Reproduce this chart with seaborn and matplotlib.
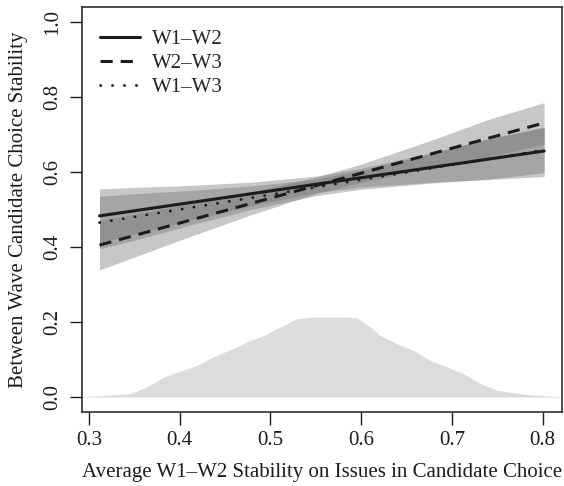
import numpy as np
import pandas as pd
import matplotlib
matplotlib.use("Agg")
import matplotlib.pyplot as plt
from matplotlib.lines import Line2D
import seaborn as sns

# ---- data ----
series = ["W1\u2013W2", "W2\u2013W3", "W1\u2013W3"]
line_x = [0.3116, 0.8016]
w1w2_y = [0.483, 0.656]
w2w3_y = [0.405, 0.731]
w1w3_y = [0.465, 0.659]

band_x = [0.3116, 0.35, 0.40, 0.48, 0.55, 0.60, 0.68, 0.74, 0.8016]
w2w3_lo = [0.339, 0.373, 0.418, 0.487, 0.542, 0.573, 0.613, 0.640, 0.674]
w2w3_hi = [0.471, 0.488, 0.510, 0.547, 0.586, 0.621, 0.687, 0.740, 0.785]
w1w2_lo = [0.411, 0.435, 0.465, 0.511, 0.545, 0.560, 0.573, 0.580, 0.588]
w1w2_hi = [0.555, 0.559, 0.563, 0.573, 0.589, 0.610, 0.653, 0.688, 0.718]
w1w3_lo = [0.395, 0.418, 0.451, 0.501, 0.537, 0.554, 0.571, 0.581, 0.598]
w1w3_hi = [0.535, 0.542, 0.549, 0.563, 0.581, 0.604, 0.651, 0.689, 0.720]

dens_x = [0.2906, 0.3457, 0.364, 0.3824, 0.4008, 0.419, 0.437, 0.4558, 0.4742,
          0.4925, 0.5109, 0.5293, 0.5476, 0.566, 0.5843, 0.5954, 0.61, 0.621,
          0.6394, 0.6577, 0.676, 0.6945, 0.7128, 0.731, 0.7496, 0.768, 0.7863, 0.819]
dens_y = [0.0, 0.009, 0.027, 0.053, 0.069, 0.084, 0.107, 0.126, 0.147,
          0.164, 0.187, 0.209, 0.213, 0.213, 0.213, 0.211, 0.187, 0.164,
          0.142, 0.124, 0.098, 0.080, 0.062, 0.036, 0.018, 0.011, 0.006, 0.001]

x_ticks = [0.3, 0.4, 0.5, 0.6, 0.7, 0.8]
y_ticks = [0.0, 0.2, 0.4, 0.6, 0.8, 1.0]
xlabel = "Average W1\u2013W2 Stability on Issues in Candidate Choice"
ylabel = "Between Wave Candidate Choice Stability"

# ---- styling ----
sns.set_theme(style="white")
plt.rcParams["font.family"] = ["Liberation Serif", "DejaVu Serif"]

fig = plt.figure(figsize=(5.64, 4.86), dpi=100)
ax = fig.add_axes([82 / 564, 74 / 486, 480 / 564, 405 / 486])

ink = "#1c1c1c"
fs = 15

# density
ax.fill_between(dens_x, 0, dens_y, color="#dcdcdc", lw=0, zorder=1)

# confidence bands
band_col = (0.45, 0.45, 0.45)
for lo, hi in [(w2w3_lo, w2w3_hi), (w1w2_lo, w1w2_hi), (w1w3_lo, w1w3_hi)]:
    ax.fill_between(band_x, lo, hi, color=band_col, alpha=0.4, lw=0, zorder=2)

# lines
df = pd.DataFrame({
    "x": line_x * 3,
    "y": w1w2_y + w2w3_y + w1w3_y,
    "series": [series[0]] * 2 + [series[1]] * 2 + [series[2]] * 2,
})
styles = {
    series[0]: dict(linestyle="-", lw=2.2),
    series[1]: dict(linestyle=(0, (4, 2.6)), lw=2.2),
    series[2]: dict(linestyle=(0, (0.1, 4.2)), lw=2.0, dash_capstyle="round"),
}
for s in series:
    sub = df[df["series"] == s]
    sns.lineplot(data=sub, x="x", y="y", ax=ax, color=ink, zorder=3,
                 legend=False, **styles[s])

handles = [Line2D([], [], color=ink, **styles[s]) for s in series]
ax.legend(handles, series, loc="upper left", frameon=False, fontsize=fs,
          handlelength=1.9, handletextpad=0.6, labelspacing=0.22,
          borderaxespad=0.0, bbox_to_anchor=(0.02, 0.965))

ax.set_xlim(0.2923, 0.8213)
ax.set_ylim(-0.04, 1.04)
ax.set_xticks(x_ticks)
ax.set_xticklabels([f"{v:.1f}" for v in x_ticks])
ax.set_yticks(y_ticks)
ax.set_yticklabels([f"{v:.1f}" for v in y_ticks], rotation=90, va="center")
ax.tick_params(axis="both", direction="out", length=9, width=1.0, color=ink,
               labelsize=fs, labelcolor=ink, pad=5, bottom=True, left=True)
for sp in ax.spines.values():
    sp.set_visible(True)
    sp.set_color(ink)
    sp.set_linewidth(1.1)
ax.set_xlabel(xlabel, fontsize=fs, color=ink, labelpad=9)
ax.set_ylabel(ylabel, fontsize=fs, color=ink, labelpad=11)
ax.grid(False)

fig.savefig("out.png", dpi=100)
